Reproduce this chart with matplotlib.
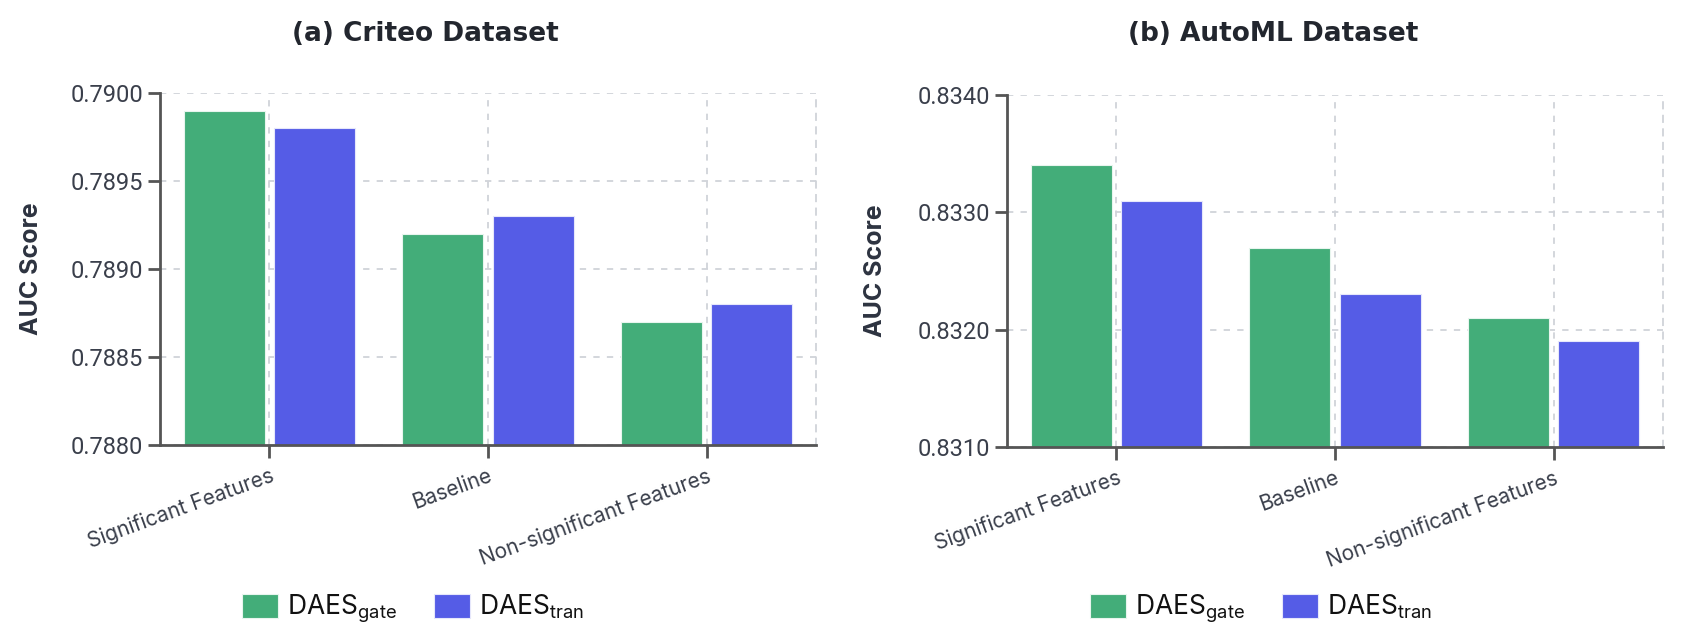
import matplotlib
matplotlib.use("Agg")
import matplotlib.pyplot as plt
import numpy as np

categories = ["Significant Features", "Baseline", "Non-significant Features"]
series_names = [r"DAES$_{\mathrm{gate}}$", r"DAES$_{\mathrm{tran}}$"]

criteo_gate = [0.7899, 0.7892, 0.7887]
criteo_tran = [0.7898, 0.7893, 0.7888]
criteo_ticks = [0.7880, 0.7885, 0.7890, 0.7895, 0.7900]

automl_gate = [0.8334, 0.8327, 0.8321]
automl_tran = [0.8331, 0.8323, 0.8319]
automl_ticks = [0.8310, 0.8320, 0.8330, 0.8340]

titles = ["(a) Criteo Dataset", "(b) AutoML Dataset"]

GREEN = "#43ad79"
BLUE = "#555ce6"
TEXT = "#3a3f4b"
DARK = "#2d3340"
SPINE = "#555555"
GRID = "#d0d3d9"

plt.rcParams["font.family"] = ["Inter", "DejaVu Sans"]
plt.rcParams["mathtext.fontset"] = "custom"
plt.rcParams["mathtext.rm"] = "Inter"
plt.rcParams["mathtext.it"] = "Inter"

W, H = 1682, 636
fig = plt.figure(figsize=(W / 100, H / 100), dpi=100)

panels = [
    dict(left=160, right=816, top=93, bottom=445, gate=criteo_gate, tran=criteo_tran,
         ticks=criteo_ticks, ylab_x=43, title_x=425, legend_x=413),
    dict(left=1007, right=1663, top=95, bottom=447, gate=automl_gate, tran=automl_tran,
         ticks=automl_ticks, ylab_x=887, title_x=1273, legend_x=1261),
]

x = np.arange(len(categories))
bw = 0.37
off = 0.207

for i, p in enumerate(panels):
    ax = fig.add_axes([p["left"] / W, 1 - p["bottom"] / H,
                       (p["right"] - p["left"]) / W, (p["bottom"] - p["top"]) / H])
    ax.set_axisbelow(True)
    ax.bar(x - off, p["gate"], width=bw, color=GREEN, edgecolor="#e8f5ee",
           linewidth=0.8, label=series_names[0], zorder=3)
    ax.bar(x + off, p["tran"], width=bw, color=BLUE, edgecolor="#e6e7fb",
           linewidth=0.8, label=series_names[1], zorder=3)
    ax.set_xlim(-0.5, 2.5)
    ax.set_ylim(p["ticks"][0], p["ticks"][-1])
    ax.set_yticks(p["ticks"])
    ax.set_yticklabels(["{:.4f}".format(t) for t in p["ticks"]],
                       fontfamily=["Roboto", "DejaVu Sans"])
    ax.set_xticks(x)
    ax.set_xticklabels(categories, rotation=20, ha="right", rotation_mode="anchor")
    ax.tick_params(axis="y", labelsize=17, colors=SPINE, labelcolor=TEXT,
                   length=9, width=2, pad=3)
    ax.tick_params(axis="x", labelsize=15, colors=SPINE, labelcolor=TEXT,
                   length=9, width=2, pad=6)
    ax.grid(True, linestyle=(0, (3.5, 4)), color=GRID, linewidth=1.3, zorder=0)
    for s in ["left", "bottom"]:
        ax.spines[s].set_color(SPINE)
        ax.spines[s].set_linewidth(2)
        ax.spines[s].set_zorder(4)
    ax.spines["top"].set_visible(False)
    ax.spines["right"].set_color(GRID)
    ax.spines["right"].set_linestyle((0, (3.5, 4)))
    ax.spines["right"].set_linewidth(1.3)
    ax.set_ylabel("AUC Score", fontsize=18, fontweight="bold", color=DARK)
    ax.yaxis.set_label_coords((p["ylab_x"] - p["left"]) / (p["right"] - p["left"]), 0.5)

    fig.text(p["title_x"] / W, 1 - 41 / H, titles[i], ha="center", va="baseline",
             fontsize=19, fontweight="bold", color="#22262e",
             fontfamily=["DejaVu Sans"])

    handles, labels = ax.get_legend_handles_labels()
    fig.legend(handles, labels, loc="center", bbox_to_anchor=(p["legend_x"] / W, 1 - 609 / H),
               ncol=2, frameon=False, fontsize=19, handlelength=1.35, handleheight=1.0,
               handletextpad=0.35, columnspacing=1.4, labelcolor="#111111")

fig.savefig("out.png", dpi=100)
